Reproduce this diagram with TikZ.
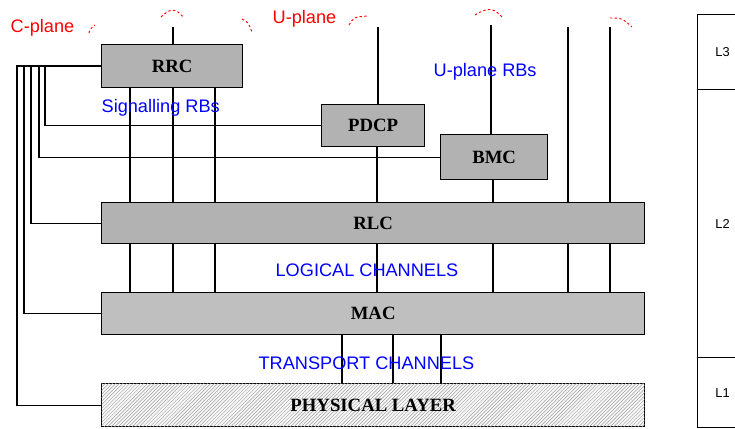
\documentclass[tikz,border=0pt]{standalone}
\usepackage{fontspec}
\setmainfont{Liberation Sans}
\newfontfamily\layerfont{Liberation Serif}
\usetikzlibrary{patterns}

\begin{document}
\begin{tikzpicture}[x=0.03cm,y=-0.03cm,line width=1.1pt,
  layer/.style={draw=black,fill=gray!60,anchor=north west,inner sep=0pt,
    font=\layerfont\bfseries\fontsize{16}{16}\selectfont},
  rbtext/.style={text=blue,anchor=west,inner sep=0pt,font=\fontsize{15.5}{15.5}\selectfont},
  planetext/.style={text=red,anchor=west,inner sep=0pt,font=\fontsize{15.5}{15.5}\selectfont},
  trace/.style={red,line width=0.8pt,dash pattern=on 2pt off 2pt},
  side/.style={draw=black,anchor=north west,minimum width=1.5cm,inner sep=0pt,
    font=\fontsize{11}{11}\selectfont}]
\useasboundingbox (0,0) rectangle (735,429);

% protocol layers
\node[layer,minimum width=4.23cm,minimum height=1.29cm] (rrc) at (101,44) {RRC};
\node[layer,minimum width=3.09cm,minimum height=1.26cm] (pdcp) at (321,104) {PDCP};
\node[layer,minimum width=3.21cm,minimum height=1.35cm] (bmc) at (440,134) {BMC};
\node[layer,minimum width=16.29cm,minimum height=1.23cm] (rlc) at (101,202) {RLC};
\node[layer,fill=gray!50,minimum width=16.29cm,minimum height=1.26cm] (mac) at (101,292) {MAC};
\node[layer,fill=gray!5,postaction={pattern=north east lines,pattern color=gray!75},
  minimum width=16.29cm,minimum height=1.29cm] (phy) at (101,383) {PHYSICAL LAYER};

% L1/L2/L3 column
\node[side,minimum height=2.25cm] (l3) at (697,14) {L3};
\node[side,minimum height=8.04cm] (l2) at (697,89) {L2};
\node[side,minimum height=2.1cm] (l1) at (697,357) {L1};

% free ends at the top
\coordinate (cptop) at (173,27);
\coordinate (uptop) at (378,27);
\coordinate (bmctop) at (491,25);
\coordinate (uatop) at (568,27);
\coordinate (ubtop) at (610,27);
\draw (cptop) -- (cptop |- rrc.north);
\draw (uptop) -- (uptop |- pdcp.north);
\draw (bmctop) -- (bmctop |- bmc.north);
\draw (uatop) -- (uatop |- rlc.north);
\draw (ubtop) -- (ubtop |- rlc.north);

% radio bearers
\foreach \x in {130,173,215}
  \draw (\x,0 |- rrc.south) -- (\x,0 |- rlc.north);
\draw (377,0 |- pdcp.south) -- (377,0 |- rlc.north);
\draw (493,0 |- bmc.south) -- (493,0 |- rlc.north);

% logical and transport channels
\foreach \x in {130,173,215,377,493,568,610}
  \draw (\x,0 |- rlc.south) -- (\x,0 |- mac.north);
\foreach \x in {342,393,441}
  \draw (\x,0 |- mac.south) -- (\x,0 |- phy.north);

% control from RRC
\foreach \x/\t in {17/phy,24/mac,31/rlc,39/bmc,45/pdcp}
  \draw (rrc.west) -| (\x,0 |- \t.west) -- (\t.west);

% labels
\node[planetext] (cplane) at (10,28) {C-plane};
\node[planetext] (uplane) at (272,19) {U-plane};
\node[rbtext] (srb) at (101,108) {Signalling RBs};
\node[rbtext] (urb) at (433,72) {U-plane RBs};
\node[rbtext] (logch) at (275,270) {LOGICAL CHANNELS};
\node[rbtext] (trch) at (258,363) {TRANSPORT CHANNELS};

% what is left of the plane outlines
\draw[trace] (89,33) .. controls (90,29) .. (95,25);
\draw[trace] (161,17) .. controls (170,8) and (176,8) .. (183,17);
\draw[trace] (242,19) .. controls (248,22) .. (252,32);
\draw[trace] (349,25) .. controls (354,17) .. (368,16);
\draw[trace] (475,15) .. controls (488,7) and (494,8) .. (502,17);
\draw[trace] (610,18) .. controls (622,18) .. (632,27);
\end{tikzpicture}
\end{document}
